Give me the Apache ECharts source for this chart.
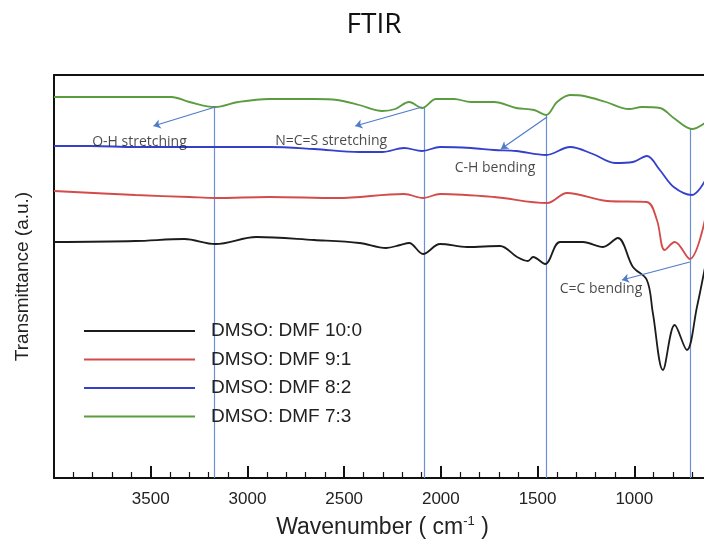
<!DOCTYPE html>
<html>
<head>
<meta charset="utf-8">
<script src="https://cdn.jsdelivr.net/npm/echarts@6/dist/echarts.min.js"></script>
<style>
  html, body { margin: 0; padding: 0; background: #fff; }
  #chart { width: 704px; height: 540px; }
</style>
</head>
<body>
<div id="chart"></div>
<script>
// spectra (wavenumber in cm-1, transmittance in a.u.)
const blackWn = [4000, 3579, 3326, 3166, 2954, 2655, 2422, 2283, 2210, 2164, 2092, 2004, 1864, 1694, 1606, 1550, 1523, 1461, 1384, 1265, 1162, 1085, 1007, 935, 904, 852, 791, 728, 676, 635]
const blackT = [236, 237, 239, 234, 241, 238, 235, 230, 233, 235, 224, 234, 231, 232, 221, 217, 221, 214, 236, 236, 231, 240, 211, 198, 165, 108, 153, 128, 171, 210]

const redWn = [4000, 3579, 3300, 3166, 2887, 2536, 2190, 2092, 2004, 1725, 1451, 1348, 1141, 935, 883, 843, 791, 713, 635]
const redT = [287, 283, 281, 280, 281, 280, 284, 280, 284, 281, 275, 285, 277, 276, 258, 228, 236, 219, 258]

const blueWn = [4000, 3811, 3579, 3300, 3166, 2887, 2655, 2422, 2303, 2190, 2097, 2004, 1844, 1725, 1611, 1456, 1332, 1214, 1100, 1007, 935, 868, 796, 702, 635]
const blueT = [332, 332, 331, 331, 331, 331, 329, 326, 326, 330, 327, 331, 330, 328, 327, 323, 331, 324, 315, 316, 322, 308, 291, 283, 297]

const greenWn = [4000, 3393, 3300, 3166, 3047, 2887, 2655, 2536, 2422, 2303, 2236, 2164, 2097, 2025, 1932, 1844, 1725, 1611, 1518, 1456, 1399, 1332, 1260, 1146, 1027, 961, 868, 796, 702, 635]
const greenT = [381, 381, 376, 371, 376, 379, 379, 378, 373, 367, 369, 376, 370, 379, 379, 376, 376, 370, 368, 363, 376, 383, 382, 376, 369, 371, 370, 360, 349, 355]

const seriesNames = ['DMSO: DMF 10:0', 'DMSO: DMF 9:1', 'DMSO: DMF 8:2', 'DMSO: DMF 7:3']

// marked bands: vertical guide lines, from the green curve down to the axis
const peakWn = [3170, 2085, 1455, 710]
const peakTop = [371, 370, 363, 349]

// annotations: label text, label position, arrow start and arrow end
const noteText = ['O-H stretching', 'N=C=S stretching', 'C-H bending', 'C=C bending']
const noteAt = [[3558, 336], [2567, 337], [1720, 310], [1172, 189]]
const arrowFrom = [[3166, 371], [2097, 371], [1451, 361], [713, 216]]
const arrowTo = [[3486, 352], [2443, 352], [1689, 329], [1064, 198]]

const zip = (xs, ys) => xs.map((x, i) => [x, ys[i]])

const chart = echarts.init(document.getElementById('chart'))

function lineSeries(name, data, color) {
  return {
    name: name,
    type: 'line',
    data: data,
    symbol: 'none',
    smooth: 0.35,
    lineStyle: { color: color, width: 1.8 },
    itemStyle: { color: color },
    z: 3
  }
}

const option = {
  animation: false,
  backgroundColor: '#fff',
  title: {
    text: 'FTIR',
    left: 369,
    textAlign: 'center',
    top: 6,
    textStyle: { fontFamily: 'Open Sans', fontSize: 28, fontWeight: 'normal', color: '#111' }
  },
  legend: {
    data: seriesNames,
    orient: 'vertical',
    left: 84,
    top: 321,
    padding: 0,
    icon: 'rect',
    itemWidth: 111,
    itemHeight: 2,
    itemGap: 8.5,
    textStyle: { fontFamily: 'Liberation Sans', fontSize: 19, lineHeight: 20, color: '#222', padding: [0, 0, 0, 11] }
  },
  grid: { left: 54, right: -27, top: 75, bottom: 62, containLabel: false, outerBoundsMode: 'none' },
  xAxis: [
    {
      type: 'value',
      inverse: true,
      min: 500,
      max: 4000,
      interval: 500,
      name: '{a|Wavenumber ( cm}{s|-1}{a| )}',
      nameLocation: 'middle',
      nameGap: 37,
      nameTextStyle: {
        padding: [0, 20, 0, 0],
        rich: {
          a: { fontFamily: 'Liberation Sans', fontSize: 23, color: '#222' },
          s: { fontFamily: 'Liberation Sans', fontSize: 13, color: '#222', verticalAlign: 'top', padding: [0, 0, 12, 0] }
        }
      },
      axisLine: { show: true, onZero: false, lineStyle: { color: '#111', width: 2 } },
      axisTick: { show: true, inside: true, length: 12, lineStyle: { color: '#111', width: 2 } },
      minorTick: { show: true, splitNumber: 5, length: 6, lineStyle: { color: '#111', width: 1.2 } },
      axisLabel: {
        margin: 13,
        fontFamily: 'Liberation Sans',
        fontSize: 17,
        color: '#222',
        formatter: v => (v === 4000 ? '' : String(v))
      },
      splitLine: { show: false }
    },
    {
      type: 'value',
      position: 'top',
      inverse: true,
      min: 500,
      max: 4000,
      interval: 500,
      axisLine: { show: true, onZero: false, lineStyle: { color: '#111', width: 2 } },
      axisTick: { show: false },
      axisLabel: { show: false },
      splitLine: { show: false }
    }
  ],
  yAxis: {
    type: 'value',
    min: 0,
    max: 403,
    name: 'Transmittance (a.u.)',
    nameLocation: 'middle',
    nameGap: 22,
    nameTextStyle: { fontFamily: 'Liberation Sans', fontSize: 19, color: '#222' },
    axisLine: { show: true, lineStyle: { color: '#111', width: 2 } },
    axisTick: { show: false },
    axisLabel: { show: false },
    splitLine: { show: false }
  },
  series: [
    lineSeries(seriesNames[0], zip(blackWn, blackT), '#1c1c1c'),
    lineSeries(seriesNames[1], zip(redWn, redT), '#d34b4b'),
    lineSeries(seriesNames[2], zip(blueWn, blueT), '#3440cc'),
    lineSeries(seriesNames[3], zip(greenWn, greenT), '#5a9c3e'),
    {
      name: 'guides',
      type: 'lines',
      coordinateSystem: 'cartesian2d',
      symbol: 'none',
      silent: true,
      lineStyle: { color: '#6b8fcf', width: 1.2, opacity: 1 },
      data: peakWn.map((w, i) => ({ coords: [[w, peakTop[i]], [w, 0]] })),
      z: 2
    },
    {
      name: 'arrows',
      type: 'lines',
      coordinateSystem: 'cartesian2d',
      symbol: ['none', 'arrow'],
      symbolSize: 7,
      silent: true,
      lineStyle: { color: '#4f7bc9', width: 1.2, opacity: 1 },
      data: arrowFrom.map((p, i) => ({ coords: [p, arrowTo[i]] })),
      z: 4
    },
    {
      name: 'notes',
      type: 'scatter',
      symbolSize: 0,
      silent: true,
      data: noteAt.map((p, i) => ({ value: p, name: noteText[i] })),
      label: {
        show: true,
        position: 'inside',
        formatter: p => p.name,
        fontFamily: 'Open Sans',
        fontSize: 14,
        color: '#1a1a1a'
      },
      z: 5
    }
  ]
}

chart.setOption(option)
</script>
</body>
</html>
